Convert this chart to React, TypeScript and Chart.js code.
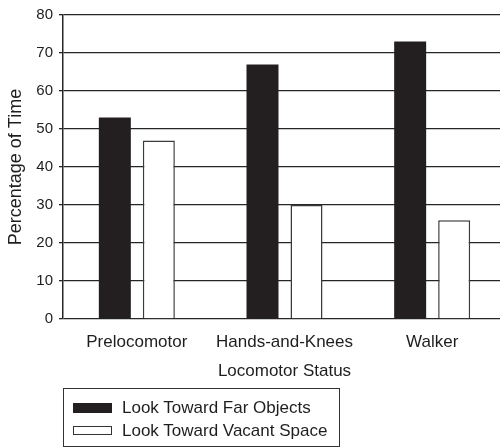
import React, { useEffect, useRef } from 'react';
import { Chart, registerables } from 'chart.js';

Chart.register(...registerables);

const categories = ['Prelocomotor', 'Hands-and-Knees', 'Walker'];
const seriesNames = ['Look Toward Far Objects', 'Look Toward Vacant Space'];
const farObjects = [53, 67, 73];
const vacantSpace = [47, 30, 26];
const yMin = 0;
const yMax = 80;
const yStep = 10;
const xTitle = 'Locomotor Status';
const yTitle = 'Percentage of Time';

const FONT = '"Liberation Sans", Arial, Helvetica, sans-serif';
const INK = '#231f20';
const TEXT = '#1e1e1e';

export default function App() {
  const ref = useRef<HTMLCanvasElement | null>(null);

  useEffect(() => {
    if (!ref.current) return;
    const chart = new Chart(ref.current, {
      type: 'bar',
      data: {
        labels: categories,
        datasets: [
          {
            label: seriesNames[0],
            data: farObjects,
            backgroundColor: INK,
            borderColor: INK,
            borderWidth: 0,
          },
          {
            label: seriesNames[1],
            data: vacantSpace,
            backgroundColor: '#ffffff',
            borderColor: '#3a3a3a',
            borderWidth: 1.5,
          },
        ],
      },
      options: {
        responsive: false,
        animation: false,
        devicePixelRatio: 1,
        categoryPercentage: 0.596,
        barPercentage: 0.727,
        layout: { padding: { top: 11, left: 0, right: 4, bottom: 0 } },
        plugins: {
          legend: { display: false },
          tooltip: { enabled: false },
        },
        scales: {
          x: {
            type: 'category',
            grid: { display: false, drawTicks: false },
            border: { display: false },
            ticks: {
              font: { family: FONT, size: 17 },
              color: TEXT,
              padding: 13,
              maxRotation: 0,
              autoSkip: false,
            },
            title: {
              display: true,
              text: xTitle,
              font: { family: FONT, size: 17 },
              color: TEXT,
              padding: { top: 0, bottom: 65 },
            },
            afterFit: (s: any) => {
              s.height = 128;
            },
          },
          y: {
            min: yMin,
            max: yMax,
            ticks: {
              stepSize: yStep,
              font: { family: FONT, size: 15 },
              color: TEXT,
              padding: 6,
            },
            grid: {
              color: '#262626',
              lineWidth: 1.3,
              tickLength: 4,
              drawTicks: true,
            },
            border: { display: true, color: '#262626', width: 1.5 },
            title: {
              display: true,
              text: yTitle,
              font: { family: FONT, size: 18 },
              color: TEXT,
              padding: { top: 5, bottom: 0 },
            },
            afterFit: (s: any) => {
              s.width = 63;
            },
          },
        },
      },
    });
    return () => chart.destroy();
  }, []);

  const textStyle: React.CSSProperties = {
    position: 'absolute',
    left: 122,
    fontFamily: FONT,
    fontSize: 17,
    lineHeight: '20px',
    color: TEXT,
    whiteSpace: 'nowrap',
  };

  return (
    <div
      style={{
        position: 'fixed',
        left: 0,
        top: 0,
        width: 500,
        height: 447,
        overflow: 'hidden',
        background: '#fff',
      }}
    >
      <canvas ref={ref} width={510} height={447} style={{ display: 'block', width: 510, height: 447 }} />
      <div
        style={{
          position: 'absolute',
          left: 63,
          top: 388,
          width: 277,
          height: 59,
          border: '1px solid #333',
          boxSizing: 'border-box',
        }}
      />
      <div
        style={{
          position: 'absolute',
          left: 73,
          top: 403,
          width: 39,
          height: 10,
          background: INK,
        }}
      />
      <div style={{ ...textStyle, top: 398 }}>{seriesNames[0]}</div>
      <div
        style={{
          position: 'absolute',
          left: 73,
          top: 426,
          width: 39,
          height: 9,
          background: '#fff',
          border: '1px solid #333',
          boxSizing: 'border-box',
        }}
      />
      <div style={{ ...textStyle, top: 421 }}>{seriesNames[1]}</div>
    </div>
  );
}
